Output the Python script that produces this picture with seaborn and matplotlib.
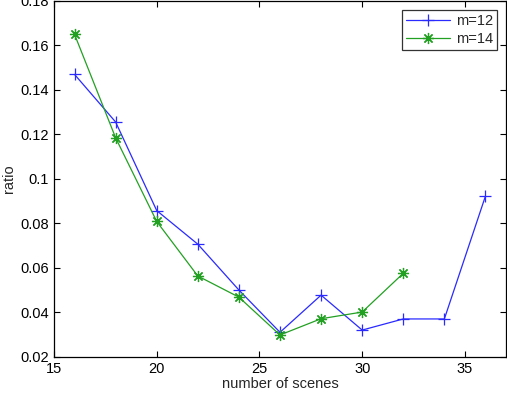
import matplotlib
matplotlib.use("Agg")
import matplotlib.pyplot as plt
import seaborn as sns
import pandas as pd

# values
scenes_m12 = [16, 18, 20, 22, 24, 26, 28, 30, 32, 34, 36]
ratio_m12 = [0.147, 0.1256, 0.0858, 0.0707, 0.0501, 0.0311, 0.0478, 0.0321, 0.0371, 0.0371, 0.0923]
scenes_m14 = [16, 18, 20, 22, 24, 26, 28, 30, 32]
ratio_m14 = [0.165, 0.1185, 0.0809, 0.0564, 0.0469, 0.0299, 0.0372, 0.0402, 0.0576]

x_ticks = [15, 20, 25, 30, 35]
y_ticks = [0.02, 0.04, 0.06, 0.08, 0.1, 0.12, 0.14, 0.16, 0.18]
y_tick_labels = ["0.02", "0.04", "0.06", "0.08", "0.1", "0.12", "0.14", "0.16", "0.18"]

df = pd.concat([
    pd.DataFrame({"scenes": scenes_m12, "ratio": ratio_m12, "m": "m=12"}),
    pd.DataFrame({"scenes": scenes_m14, "ratio": ratio_m14, "m": "m=14"}),
])

sns.set_style("ticks")
plt.rcParams["font.family"] = ["Liberation Sans", "DejaVu Sans"]
plt.rcParams["xtick.direction"] = "in"
plt.rcParams["ytick.direction"] = "in"

fig = plt.figure(figsize=(5.07, 3.96), dpi=100)
ax = fig.add_axes([0.1065, 0.0985, 0.8915, 0.899])

sns.lineplot(data=df, x="scenes", y="ratio", hue="m", style="m",
             palette={"m=12": "#2a2aff", "m=14": "#22a022"},
             markers={"m=12": "+", "m=14": (8, 2, 0)},
             dashes=False, linewidth=0.9, markersize=8, markeredgewidth=0.9,
             ax=ax)
# seaborn paints marker edges white; give them the line colour
for ln in ax.lines:
    ln.set_markeredgecolor(ln.get_color())

ax.set_xlim(15, 37)
ax.set_ylim(0.02, 0.18)
ax.set_xticks(x_ticks)
ax.set_yticks(y_ticks)
ax.set_yticklabels(y_tick_labels)
ax.tick_params(axis="both", labelsize=10.5, length=4, width=0.8,
               top=True, right=True, colors="black")
for s in ax.spines.values():
    s.set_visible(True)
    s.set_linewidth(0.9)
    s.set_color("black")

ax.set_xlabel("number of scenes", fontsize=10.5, labelpad=1)
ax.set_ylabel("ratio", fontsize=10.5, labelpad=3)

leg = ax.legend(loc="upper right", fontsize=10.5, frameon=True, fancybox=False,
                edgecolor="black", borderaxespad=0.6, handlelength=3.0,
                borderpad=0.3, labelspacing=0.25, handletextpad=0.4)
leg.get_frame().set_linewidth(0.9)
for ln in leg.get_lines():
    ln.set_markeredgecolor(ln.get_color())

fig.savefig("out.png", dpi=100)
